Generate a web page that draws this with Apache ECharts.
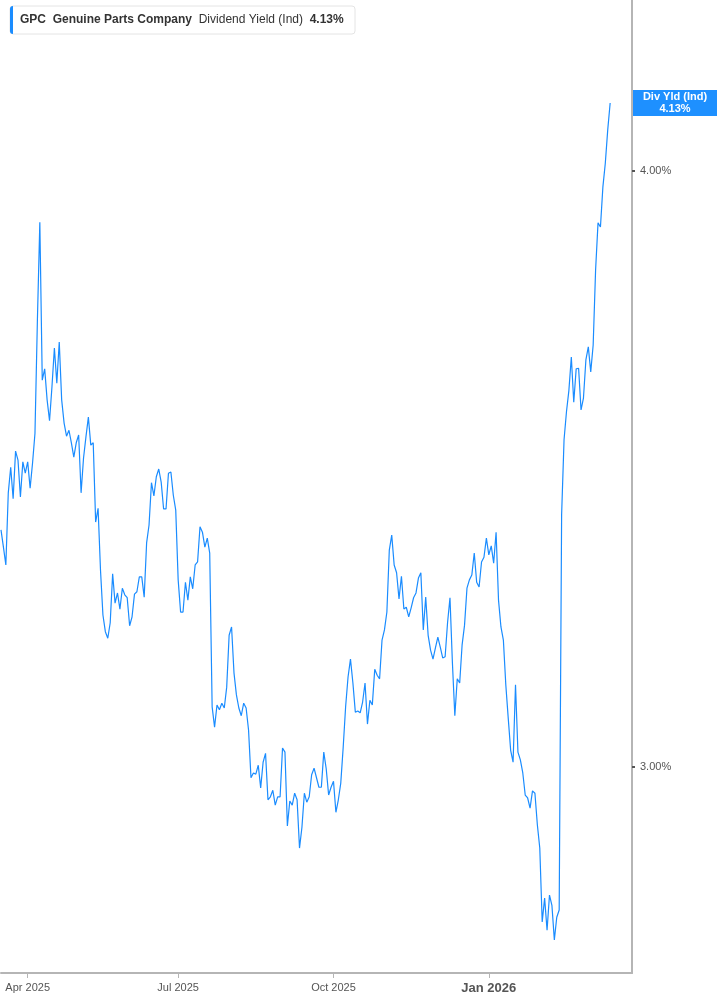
<!DOCTYPE html>
<html>
<head>
<meta charset="utf-8">
<script src="https://cdn.jsdelivr.net/npm/echarts@6/dist/echarts.min.js"></script>
<style>
  html, body { margin: 0; padding: 0; background: #fff; }
  #chart { width: 717px; height: 1005px; }
</style>
</head>
<body>
<div id="chart"></div>
<script>
// ---- Data ----
const startDate = '2025-03-17';
const marketHolidays = ['2025-04-18','2025-05-26','2025-06-19','2025-07-04','2025-09-01',
  '2025-11-27','2025-12-25','2026-01-01','2026-01-19','2026-02-16'];
const totalSlots = 261; // trading-day slots on the x axis (data + right padding)

const tickDates = ['2025-04-01', '2025-07-01', '2025-10-01', '2026-01-02'];
const tickLabels = ['Apr 2025', 'Jul 2025', 'Oct 2025', 'Jan 2026'];
const yTickValues = [3, 4];

const yieldValues = [
  3.398, 3.369, 3.339, 3.460, 3.503, 3.450, 3.530, 3.515, 3.453, 3.512,
  3.493, 3.512, 3.468, 3.510, 3.560, 3.750, 3.914, 3.649, 3.668, 3.616,
  3.581, 3.638, 3.703, 3.644, 3.713, 3.616, 3.577, 3.555, 3.565, 3.544,
  3.520, 3.544, 3.557, 3.460, 3.518, 3.554, 3.587, 3.540, 3.544, 3.411,
  3.434, 3.330, 3.255, 3.227, 3.216, 3.242, 3.324, 3.275, 3.292, 3.265,
  3.300, 3.289, 3.284, 3.237, 3.252, 3.290, 3.294, 3.319, 3.319, 3.285,
  3.376, 3.406, 3.477, 3.455, 3.487, 3.500, 3.478, 3.433, 3.433, 3.493,
  3.495, 3.456, 3.431, 3.314, 3.260, 3.260, 3.310, 3.280, 3.319, 3.299,
  3.339, 3.344, 3.403, 3.394, 3.369, 3.384, 3.359, 3.101, 3.067, 3.104,
  3.096, 3.107, 3.099, 3.134, 3.221, 3.235, 3.158, 3.121, 3.099, 3.086,
  3.107, 3.099, 3.062, 2.982, 2.990, 2.988, 3.003, 2.965, 3.008, 3.023,
  2.945, 2.950, 2.961, 2.936, 2.950, 2.950, 3.032, 3.025, 2.901, 2.943,
  2.936, 2.956, 2.945, 2.864, 2.899, 2.956, 2.941, 2.950, 2.987, 2.998,
  2.982, 2.966, 2.966, 3.025, 2.997, 2.953, 2.966, 2.976, 2.924, 2.945,
  2.973, 3.033, 3.101, 3.151, 3.181, 3.141, 3.092, 3.094, 3.091, 3.109,
  3.141, 3.072, 3.112, 3.104, 3.164, 3.154, 3.148, 3.213, 3.230, 3.260,
  3.364, 3.389, 3.339, 3.326, 3.282, 3.320, 3.265, 3.268, 3.252, 3.267,
  3.284, 3.292, 3.317, 3.326, 3.230, 3.285, 3.221, 3.196, 3.181, 3.200,
  3.218, 3.201, 3.183, 3.185, 3.242, 3.284, 3.175, 3.086, 3.148, 3.141,
  3.205, 3.238, 3.300, 3.314, 3.322, 3.359, 3.310, 3.302, 3.344, 3.352,
  3.384, 3.356, 3.371, 3.342, 3.394, 3.280, 3.235, 3.213, 3.138, 3.082,
  3.028, 3.008, 3.138, 3.025, 3.012, 2.990, 2.953, 2.948, 2.931, 2.960,
  2.956, 2.903, 2.864, 2.740, 2.780, 2.726, 2.785, 2.768, 2.710, 2.748,
  2.760, 3.423, 3.549, 3.596, 3.632, 3.688, 3.612, 3.668, 3.669, 3.599,
  3.619, 3.683, 3.705, 3.663, 3.708, 3.834, 3.913, 3.906, 3.973, 4.013,
  4.069, 4.114
];

const headerTicker = 'GPC';
const headerName = 'Genuine Parts Company';
const headerMetric = 'Dividend Yield (Ind)';
const headerValue = '4.13%';
const lastLabelTitle = 'Div Yld (Ind)';
const lastLabelValue = '4.13%';

// ---- Build trading-day categories ----
function fmt(d) {
  const m = String(d.getUTCMonth() + 1).padStart(2, '0');
  const day = String(d.getUTCDate()).padStart(2, '0');
  return d.getUTCFullYear() + '-' + m + '-' + day;
}
const categories = [];
{
  const d = new Date(startDate + 'T00:00:00Z');
  while (categories.length < totalSlots) {
    const wd = d.getUTCDay();
    const s = fmt(d);
    if (wd !== 0 && wd !== 6 && marketHolidays.indexOf(s) < 0) categories.push(s);
    d.setUTCDate(d.getUTCDate() + 1);
  }
}

const BLUE = '#1a8cff';
const chart = echarts.init(document.getElementById('chart'), null, { renderer: 'canvas' });

const option = {
  animation: false,
  backgroundColor: '#ffffff',
  grid: { left: 1, right: 85, top: 0, bottom: 32, containLabel: false },
  xAxis: {
    type: 'category',
    data: categories,
    boundaryGap: false,
    axisLine: { show: true, lineStyle: { color: '#b5b5b5', width: 2 } },
    axisTick: {
      show: true,
      length: 5,
      interval: function (idx, val) { return tickDates.indexOf(val) >= 0; },
      lineStyle: { color: '#b5b5b5', width: 1 }
    },
    axisLabel: {
      interval: function (idx, val) { return tickDates.indexOf(val) >= 0; },
      formatter: function (val) {
        const k = tickDates.indexOf(val);
        if (k < 0) return '';
        const t = tickLabels[k];
        return val.slice(5, 7) === '01' ? '{b|' + t + '}' : t;
      },
      color: '#555',
      fontFamily: 'Liberation Sans, Arial, sans-serif',
      fontSize: 11,
      margin: 9,
      rich: {
        b: { fontWeight: 'bold', fontSize: 13, color: '#555', fontFamily: 'Liberation Sans, Arial, sans-serif' }
      }
    },
    splitLine: { show: false }
  },
  yAxis: {
    type: 'value',
    position: 'right',
    min: 4 + 171 / 596 - 973 / 596,
    max: 4 + 171 / 596,
    axisLine: { show: true, lineStyle: { color: '#b5b5b5', width: 2 } },
    axisTick: { show: true, customValues: yTickValues, length: 3, lineStyle: { color: '#555', width: 2 } },
    axisLabel: {
      customValues: yTickValues,
      formatter: function (v) { return v.toFixed(2) + '%'; },
      color: '#555',
      fontFamily: 'Liberation Sans, Arial, sans-serif',
      fontSize: 11,
      margin: 8
    },
    splitLine: { show: false }
  },
  series: [{
    type: 'line',
    data: yieldValues,
    showSymbol: false,
    symbol: 'none',
    lineStyle: { color: BLUE, width: 1.2 },
    clip: true
  }],
  graphic: [
    { type: 'rect', id: 'hdrBox', shape: { x: 10, y: 6, width: 345, height: 28, r: 3 },
      style: { fill: '#ffffff', stroke: '#e4e4e4', lineWidth: 1 }, z: 10 },
    { type: 'rect', id: 'hdrBar', shape: { x: 10, y: 6, width: 3, height: 28, r: [3, 0, 0, 3] },
      style: { fill: BLUE }, z: 11 },
    { type: 'text', id: 'hdrText', x: 20, y: 20, z: 11,
      style: {
        text: '{t|' + headerTicker + '}  {n|' + headerName + '}  {m|' + headerMetric + '}  {v|' + headerValue + '}',
        verticalAlign: 'middle',
        rich: {
          t: { fontWeight: 'bold', fontSize: 12, fill: '#333', fontFamily: 'Liberation Sans, Arial, sans-serif' },
          n: { fontWeight: 'bold', fontSize: 12, fill: '#333', fontFamily: 'Liberation Sans, Arial, sans-serif' },
          m: { fontWeight: 'normal', fontSize: 12, fill: '#333', fontFamily: 'Liberation Sans, Arial, sans-serif' },
          v: { fontWeight: 'bold', fontSize: 12, fill: '#333', fontFamily: 'Liberation Sans, Arial, sans-serif' }
        }
      }
    }
  ]
};
chart.setOption(option);

// Last-value tag on the right axis, placed through the axis scale
const lastVal = yieldValues[yieldValues.length - 1];
const yPix = chart.convertToPixel({ yAxisIndex: 0 }, lastVal);
const axisX = chart.convertToPixel({ xAxisIndex: 0 }, categories[categories.length - 1]);
chart.setOption({
  graphic: [
    { type: 'rect', id: 'tagBox', shape: { x: axisX + 1, y: yPix - 13, width: 717 - axisX, height: 26 },
      style: { fill: '#1e90ff' }, z: 12 },
    { type: 'text', id: 'tagText', x: axisX + 1 + (717 - axisX - 1) / 2, y: yPix, z: 13,
      style: {
        text: lastLabelTitle + '\n' + lastLabelValue,
        fill: '#fff', fontWeight: 'bold', fontSize: 11, lineHeight: 12,
        fontFamily: 'Liberation Sans, Arial, sans-serif',
        align: 'center', verticalAlign: 'middle'
      }
    }
  ]
});
</script>
</body>
</html>
